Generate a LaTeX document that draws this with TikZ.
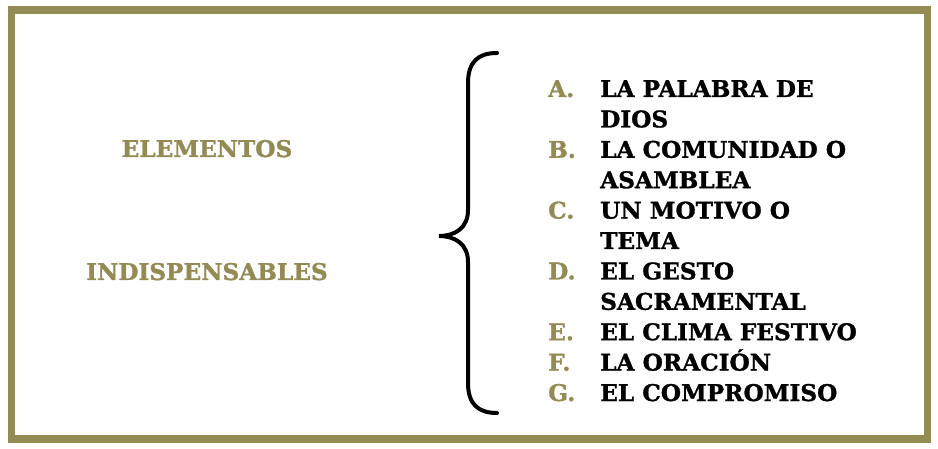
\documentclass[tikz,border=0pt]{standalone}
\usepackage{fontspec}
\setmainfont{DejaVu Serif}[BoldFeatures={FakeBold=1.2,FakeStretch=1.01}]
\definecolor{olive}{HTML}{948A54}
\tikzset{
  lefttxt/.style={anchor=base, text=olive, inner sep=0pt, font=\bfseries\fontsize{23}{30.4}\selectfont},
  letter/.style={anchor=base west, text=olive, inner sep=0pt, font=\bfseries\fontsize{23}{30.4}\selectfont},
  item/.style={anchor=base west, text=black, inner sep=0pt, align=left, font=\bfseries\fontsize{23}{30.4}\selectfont},
}
\begin{document}
\begin{tikzpicture}[x=1pt,y=-1pt]
\useasboundingbox (0,0) rectangle (938,449);
\fill[white] (0,0) rectangle (938,449);
\draw[olive, line width=7.2pt] (11.7,10) rectangle (927.3,439);
\node[lefttxt] (el) at (207,157) {ELEMENTOS};
\node[lefttxt] (in) at (207,280) {INDISPENSABLES};
\draw[black, line width=4pt, line cap=round] (497,53) .. controls (478,53) and (468,62) .. (468,83) -- (468,210) .. controls (468,228) and (455,236) .. (439,236) .. controls (455,236) and (468,244) .. (468,262) -- (468,383) .. controls (468,404) and (478,413) .. (497,413);
\node[letter] (la) at (548,97) {A.};
\node[letter] (lb) at (548,157.8) {B.};
\node[letter] (lc) at (548,218.6) {C.};
\node[letter] (ld) at (548,279.4) {D.};
\node[letter] (le) at (548,340.2) {E.};
\node[letter] (lf) at (548,370.6) {F.};
\node[letter] (lg) at (548,401) {G.};
\node[item] (ia) at (600,97) {LA PALABRA DE};
\node[item] (ia2) at (600,127.4) {DIOS};
\node[item] (ib) at (600,157.8) {LA COMUNIDAD O};
\node[item] (ib2) at (600,188.2) {ASAMBLEA};
\node[item] (ic) at (600,218.6) {UN MOTIVO O};
\node[item] (ic2) at (600,249) {TEMA};
\node[item] (id) at (600,279.4) {EL GESTO};
\node[item] (id2) at (600,309.8) {SACRAMENTAL};
\node[item] (ie) at (600,340.2) {EL CLIMA FESTIVO};
\node[item] (if) at (600,370.6) {LA ORACIÓN};
\node[item] (ig) at (600,401) {EL COMPROMISO};
\end{tikzpicture}
\end{document}
